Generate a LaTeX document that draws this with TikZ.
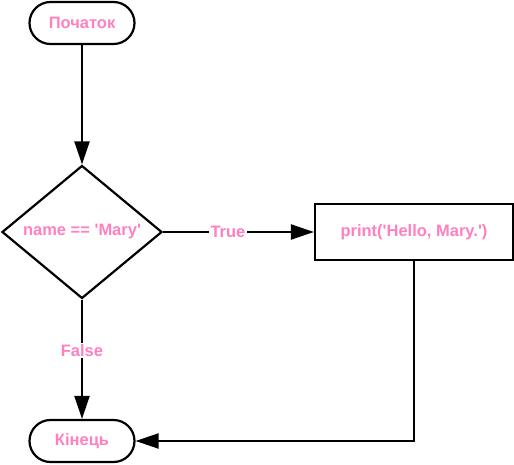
\documentclass[tikz,border=0pt]{standalone}
\usepackage{fontspec}
\setmainfont{Liberation Sans}[Ligatures=TeXOff]
\usetikzlibrary{shapes.geometric,arrows.meta}
\definecolor{txtpink}{RGB}{255,128,192}
\tikzset{
  every node/.style={font=\bfseries\fontsize{16.5}{19}\selectfont, text=txtpink},
  terminal/.style={draw=black, line width=2.2pt, rounded corners=21pt, minimum width=105pt, minimum height=42pt, inner sep=0pt},
  decision/.style={draw=black, line width=2.2pt, diamond, minimum width=160pt, minimum height=133pt, inner sep=0pt, aspect=1.2},
  process/.style={draw=black, line width=2.2pt, rectangle, minimum width=198pt, minimum height=56pt, inner sep=0pt},
  flow/.style={draw=black, line width=2.2pt, -{Triangle[length=23pt,width=15pt]}},
  edgelabel/.style={fill=white, inner sep=1.5pt}
}
\begin{document}
\begin{tikzpicture}[x=1pt,y=-1pt]
\useasboundingbox (0,0) rectangle (514,465);
\node[terminal] (start) at (82,23) {Початок};
\node[decision] (dec) at (82,232) {};
\node at (82,232) {name == 'Mary'};
\node[process] (proc) at (414,232) {print('Hello, Mary.')};
\node[terminal] (end) at (82,441) {Кінець};
\coordinate (corner) at (proc.south |- end.east);
\draw[flow] (start) -- (dec);
\draw[flow] (dec.east) -- node[edgelabel, pos=0.43] {True} (proc.west);
\draw[flow] (dec.south) -- node[edgelabel, pos=0.43] {False} (end.north);
\draw[flow] (proc.south) -- (corner) -- (end.east);
\end{tikzpicture}
\end{document}
